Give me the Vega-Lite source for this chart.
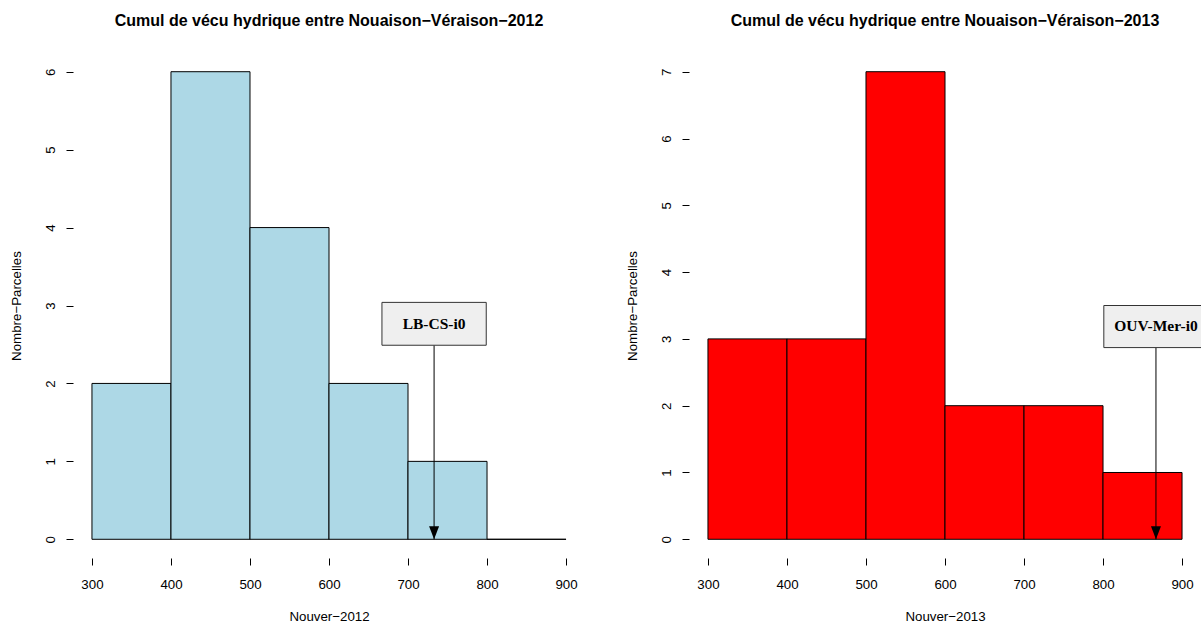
{
  "$schema": "https://vega.github.io/schema/vega-lite/v6.json",
  "padding": {"left": 9, "top": 13, "right": 0, "bottom": 0},
  "spacing": 104,
  "bounds": "flush",
  "background": "white",
  "config": {
    "view": {"stroke": null},
    "font": "Liberation Sans",
    "axis": {
      "domain": false, "grid": false, "tickColor": "black", "tickSize": 7, "tickWidth": 1,
      "labelColor": "black", "labelFont": "Liberation Sans", "labelFontSize": 13.3,
      "labelFlush": false, "labelOverlap": false,
      "titleColor": "black", "titleFont": "Liberation Sans", "titleFontSize": 13.3, "titleFontWeight": "normal"
    },
    "axisX": {"labelPadding": 12, "titlePadding": 19},
    "axisY": {"labelAngle": -90, "labelAlign": "center", "labelBaseline": "bottom", "labelPadding": 9, "titlePadding": 20, "format": "d"},
    "title": {"fontSize": 16, "fontWeight": "bold", "font": "Liberation Sans", "color": "black", "anchor": "middle", "offset": 24}
  },
  "datasets": {
    "h2012": [
      {"start": 300, "end": 400, "count": 2},
      {"start": 400, "end": 500, "count": 6},
      {"start": 500, "end": 600, "count": 4},
      {"start": 600, "end": 700, "count": 2},
      {"start": 700, "end": 800, "count": 1},
      {"start": 800, "end": 900, "count": 0}
    ],
    "h2013": [
      {"start": 300, "end": 400, "count": 3},
      {"start": 400, "end": 500, "count": 3},
      {"start": 500, "end": 600, "count": 7},
      {"start": 600, "end": 700, "count": 2},
      {"start": 700, "end": 800, "count": 2},
      {"start": 800, "end": 900, "count": 1}
    ],
    "a2012": [{"label": "LB-CS-i0", "value": 733}],
    "a2013": [{"label": "OUV-Mer-i0", "value": 867}]
  },
  "hconcat": [
    {
      "width": 512, "height": 505,
      "title": {"text": "Cumul de vécu hydrique entre Nouaison−Véraison−2012"},
      "layer": [
        {
          "data": {"name": "h2012"},
          "mark": {"type": "rect", "fill": "#ADD8E6", "stroke": "black", "strokeWidth": 1},
          "encoding": {
            "x": {"field": "start", "type": "quantitative", "scale": {"domain": [276, 924], "nice": false, "zero": false},
                  "axis": {"values": [300, 400, 500, 600, 700, 800, 900], "title": "Nouver−2012"}},
            "x2": {"field": "end"},
            "y": {"field": "count", "type": "quantitative", "scale": {"domain": [-0.24, 6.24], "nice": false, "zero": false},
                  "axis": {"values": [0, 1, 2, 3, 4, 5, 6], "title": "Nombre−Parcelles"}},
            "y2": {"datum": 0}
          }
        },
        {
          "mark": {"type": "rule", "color": "black", "strokeWidth": 1},
          "encoding": {"x": {"datum": 300, "type": "quantitative"}, "x2": {"datum": 900}, "y": {"value": "height"}}
        },
        {
          "mark": {"type": "rule", "color": "black", "strokeWidth": 1},
          "encoding": {"x": {"value": 0}, "y": {"datum": 0, "type": "quantitative"}, "y2": {"datum": 6}}
        },
        {
          "data": {"name": "a2012"},
          "mark": {"type": "rule", "color": "black", "strokeWidth": 1},
          "encoding": {"x": {"field": "value", "type": "quantitative"}, "y": {"datum": 2.49, "type": "quantitative"}, "y2": {"datum": 0}}
        },
        {
          "data": {"name": "a2012"},
          "mark": {"type": "point", "shape": "M-1,-2.6L1,-2.6L0,0Z", "size": 100, "filled": true, "color": "black", "opacity": 1},
          "encoding": {"x": {"field": "value", "type": "quantitative"}, "y": {"datum": 0, "type": "quantitative"}}
        },
        {
          "data": {"name": "a2012"},
          "mark": {"type": "rect", "fill": "#EFEFEF", "stroke": "#333333", "strokeWidth": 1},
          "encoding": {"x": {"datum": 667, "type": "quantitative"}, "x2": {"datum": 799}, "y": {"datum": 2.49, "type": "quantitative"}, "y2": {"datum": 3.04}}
        },
        {
          "data": {"name": "a2012"},
          "mark": {"type": "text", "font": "Liberation Serif", "fontWeight": "bold", "fontSize": 15.5, "color": "black", "align": "center", "baseline": "middle"},
          "encoding": {"x": {"field": "value", "type": "quantitative"}, "y": {"datum": 2.765, "type": "quantitative"}, "text": {"field": "label"}}
        }
      ]
    },
    {
      "width": 512, "height": 505,
      "title": {"text": "Cumul de vécu hydrique entre Nouaison−Véraison−2013"},
      "layer": [
        {
          "data": {"name": "h2013"},
          "mark": {"type": "rect", "fill": "#FF0000", "stroke": "black", "strokeWidth": 1},
          "encoding": {
            "x": {"field": "start", "type": "quantitative", "scale": {"domain": [276, 924], "nice": false, "zero": false},
                  "axis": {"values": [300, 400, 500, 600, 700, 800, 900], "title": "Nouver−2013"}},
            "x2": {"field": "end"},
            "y": {"field": "count", "type": "quantitative", "scale": {"domain": [-0.28, 7.28], "nice": false, "zero": false},
                  "axis": {"values": [0, 1, 2, 3, 4, 5, 6, 7], "title": "Nombre−Parcelles"}},
            "y2": {"datum": 0}
          }
        },
        {
          "mark": {"type": "rule", "color": "black", "strokeWidth": 1},
          "encoding": {"x": {"datum": 300, "type": "quantitative"}, "x2": {"datum": 900}, "y": {"value": "height"}}
        },
        {
          "mark": {"type": "rule", "color": "black", "strokeWidth": 1},
          "encoding": {"x": {"value": 0}, "y": {"datum": 0, "type": "quantitative"}, "y2": {"datum": 7}}
        },
        {
          "data": {"name": "a2013"},
          "mark": {"type": "rule", "color": "black", "strokeWidth": 1},
          "encoding": {"x": {"field": "value", "type": "quantitative"}, "y": {"datum": 2.87, "type": "quantitative"}, "y2": {"datum": 0}}
        },
        {
          "data": {"name": "a2013"},
          "mark": {"type": "point", "shape": "M-1,-2.6L1,-2.6L0,0Z", "size": 100, "filled": true, "color": "black", "opacity": 1},
          "encoding": {"x": {"field": "value", "type": "quantitative"}, "y": {"datum": 0, "type": "quantitative"}}
        },
        {
          "data": {"name": "a2013"},
          "mark": {"type": "rect", "fill": "#EFEFEF", "stroke": "#333333", "strokeWidth": 1, "clip": true},
          "encoding": {"x": {"datum": 801, "type": "quantitative"}, "x2": {"datum": 933}, "y": {"datum": 2.87, "type": "quantitative"}, "y2": {"datum": 3.5}}
        },
        {
          "data": {"name": "a2013"},
          "mark": {"type": "text", "font": "Liberation Serif", "fontWeight": "bold", "fontSize": 15.5, "color": "black", "align": "center", "baseline": "middle"},
          "encoding": {"x": {"field": "value", "type": "quantitative"}, "y": {"datum": 3.19, "type": "quantitative"}, "text": {"field": "label"}}
        }
      ]
    }
  ]
}
